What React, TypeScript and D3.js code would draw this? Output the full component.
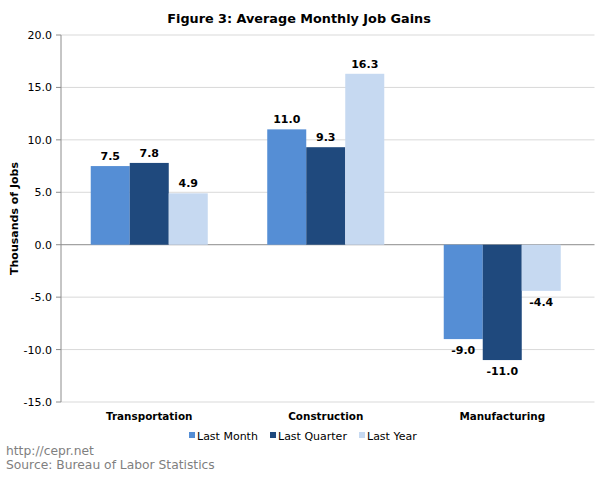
import React from "react";
import * as d3 from "d3";

const categories = ["Transportation", "Construction", "Manufacturing"];
const seriesNames = ["Last Month", "Last Quarter", "Last Year"];
const lastMonth = [7.5, 11.0, -9.0];
const lastQuarter = [7.8, 9.3, -11.0];
const lastYear = [4.9, 16.3, -4.4];
const yTicks = [20, 15, 10, 5, 0, -5, -10, -15];
const colors = ["#558ED5", "#1F497D", "#C6D9F1"];

const W = 600, H = 478;
const left = 61, right = 590.5, top = 35, bottom = 402;
const font = "Verdana, 'DejaVu Sans', sans-serif";

export default function App() {
  const series = [lastMonth, lastQuarter, lastYear];
  const y = d3.scaleLinear().domain([-15, 20]).range([bottom, top]);
  const x0 = d3.scaleBand().domain(categories).range([left, right]).paddingInner(0.337).paddingOuter(0.1685);
  const x1 = d3.scaleBand().domain(seriesNames).range([0, x0.bandwidth()]);
  return (
    <svg width={W} height={H} style={{ position: "absolute", left: 0, top: 0, background: "#fff" }} fontFamily={font}>
      <text x={299} y={23} textAnchor="middle" fontSize={12.8} fontWeight="bold">Figure 3: Average Monthly Job Gains</text>
      {yTicks.map((t) => (
        <g key={t}>
          <line x1={left} x2={right + 4} y1={y(t)} y2={y(t)} stroke={t === 0 ? "#8c8c8c" : "#d9d9d9"} strokeWidth={1} />
          <line x1={left - 5} x2={left} y1={y(t)} y2={y(t)} stroke="#8c8c8c" />
          <text x={52} y={y(t) + 4} textAnchor="end" fontSize={11}>{t.toFixed(1)}</text>
        </g>
      ))}
      <line x1={left} x2={left} y1={top} y2={bottom} stroke="#8c8c8c" />
      {categories.map((c, i) => (
        <g key={c}>
          {series.map((s, j) => {
            const v = s[i];
            const bx = x0(c)! + x1(seriesNames[j])!;
            const by = y(Math.max(0, v));
            const bh = Math.abs(y(v) - y(0));
            const lx = bx + x1.bandwidth() / 2;
            const ly = v >= 0 ? y(v) - 6 : y(v) + 15;
            return (
              <g key={j}>
                <rect x={bx} y={by} width={x1.bandwidth()} height={bh} fill={colors[j]} />
                <text x={lx} y={ly} textAnchor="middle" fontSize={11} fontWeight="bold">{v.toFixed(1)}</text>
              </g>
            );
          })}
          <text x={x0(c)! + x0.bandwidth() / 2} y={420} textAnchor="middle" fontSize={10.4} fontWeight="bold">{c}</text>
        </g>
      ))}
      <text transform={`translate(18,${(top + bottom) / 2}) rotate(-90)`} textAnchor="middle" fontSize={11} fontWeight="bold">Thousands of Jobs</text>
      {seriesNames.map((n, j) => {
        const lx = [189, 270, 359][j];
        return (
          <g key={n}>
            <rect x={lx} y={432} width={6} height={6} fill={colors[j]} />
            <text x={lx + 8} y={440} fontSize={11}>{n}</text>
          </g>
        );
      })}
      <text x={6} y={455} fontSize={12.3} fill="#7f7f7f">http://cepr.net</text>
      <text x={6} y={469} fontSize={12.3} fill="#7f7f7f">Source: Bureau of Labor Statistics</text>
    </svg>
  );
}
